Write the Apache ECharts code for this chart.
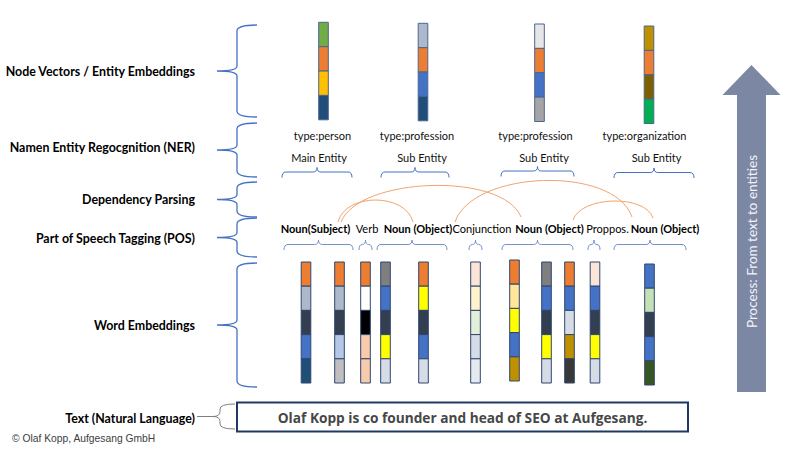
<!DOCTYPE html>
<html>
<head>
<meta charset="utf-8">
<script src="https://cdn.jsdelivr.net/npm/echarts@6/dist/echarts.min.js"></script>
<style>html,body{margin:0;padding:0;background:#fff}#c{width:800px;height:450px}</style>
</head>
<body>
<div id="c"></div>
<script>
// ---------------- DATA ----------------
const layerLabels = ['Node Vectors / Entity Embeddings', 'Namen Entity Regocgnition (NER)', 'Dependency Parsing', 'Part of Speech Tagging (POS)', 'Word Embeddings', 'Text (Natural Language)'];
const sentence = 'Olaf Kopp is co founder and head of SEO at Aufgesang.';
const words = sentence.replace('.', '').split(' ');
const palette = {
  O: '#ED7D31', GB: '#ADB9CA', N: '#333F50', B: '#4472C4', DB: '#1F4E79', LB: '#B4C7E7', G: '#BFBFBF',
  W: '#FFFFFF', K: '#000000', P: '#F8CBAD', DG: '#7F7F7F', Y: '#FFFF00', L: '#D6DCE5', PP: '#FBE5D6',
  PY: '#FFF2CC', PG: '#E2F0D9', L2: '#E6E9EE', LY: '#FFE699', GO: '#BF9000', DK: '#3B3838', LGR: '#C5E0B4',
  DGR: '#375623', GR: '#70AD47', AU: '#FFC000', LL: '#E7E6E6', MG: '#A5A5A5', BR: '#7F6000', EG: '#00B050'
};
const wordEmbeddings = [
  ['O', 'GB', 'N', 'B', 'DB'],
  ['O', 'GB', 'N', 'LB', 'G'],
  ['O', 'W', 'K', 'P', 'P'],
  ['DG', 'B', 'N', 'Y', 'L'],
  ['O', 'Y', 'N', 'B', 'L'],
  ['PP', 'PY', 'PG', 'L', 'L2'],
  ['O', 'LY', 'Y', 'B', 'GO'],
  ['DG', 'B', 'N', 'Y', 'L'],
  ['O', 'B', 'L', 'GO', 'DK'],
  ['PP', 'B', 'N', 'Y', 'L'],
  ['B', 'LGR', 'N', 'B', 'DGR']
];
const posTags = ['Noun(Subject)', 'Verb', 'Noun (Object)', 'Conjunction', 'Noun (Object)', 'Proppos.', 'Noun (Object)'];
const posWordSpans = [[0, 1], [2, 2], [3, 4], [5, 5], [6, 8], [9, 9], [10, 10]];
const dependencies = [[0, 2], [0, 4], [2, 6], [4, 6]];
const entityPos = [0, 2, 4, 6];
const entityRoles = ['Main Entity', 'Sub Entity', 'Sub Entity', 'Sub Entity'];
const entityTypes = ['type:person', 'type:profession', 'type:profession', 'type:organization'];
const nodeVectors = [
  ['GR', 'O', 'AU', 'DB'],
  ['GB', 'O', 'B', 'DB'],
  ['LL', 'O', 'B', 'MG'],
  ['GO', 'O', 'BR', 'EG']
];
const processLabel = 'Process: From text to entities';
const credit = '\u00A9 Olaf Kopp, Aufgesang GmbH';

// ---------------- LAYOUT ----------------
const LAY = {
  wordX: [306, 339.5, 365.5, 385.5, 423.5, 475.5, 514.5, 546.5, 569.5, 595, 649.5],
  wordTop: [262, 262, 262, 262, 262, 262, 260, 262, 262, 262, 264],
  wordH: 121,
  cellW: 9.6,
  nodeX: [323.5, 423, 539.5, 649],
  nodeTop: [22.3, 23.3, 24, 26],
  nodeH: 97.5,
  posX: [315.5, 367, 418, 482, 549.5, 607.5, 665],
  posY: 228.5,
  posBrace: [[284, 353], [359, 372], [377, 447], [469, 482], [502, 573], [588, 600], [614, 686]],
  posBraceY: 244.5,
  typeX: [322.5, 417, 535.5, 644.5], typeY: 135,
  roleX: [319, 422, 544, 656.5], roleY: 157.5,
  nerBrace: [[282, 352, 172], [381, 449, 172], [501, 574, 171], [614, 694, 172.5]],
  arcs: [[338, 222, 413, 222, 22], [341, 222, 521, 217, 34], [455, 222, 632, 217, 39], [573, 220, 653, 218, 18]],
  layerY: [71.7, 147.7, 199, 238, 325, 418], layerRight: 195,
  layerBrace: [[25, 117], [123, 177], [182, 217], [218, 257], [263, 387]],
  box: [237, 402.5, 688, 431.5],
  arrow: { x: 751.5, tip: 65, headBase: 95, headHalf: 29, shaftHalf: 14.5, bottom: 392 }
};

// ---------------- BUILD MARKS ----------------
const cells = [];
wordEmbeddings.forEach((col, i) => {
  const h = LAY.wordH / col.length;
  col.forEach((k, j) => cells.push({ x: LAY.wordX[i], y0: LAY.wordTop[i] + j * h, y1: LAY.wordTop[i] + (j + 1) * h, color: palette[k], stroke: '#2F4670' }));
});
nodeVectors.forEach((col, i) => {
  const h = LAY.nodeH / col.length;
  col.forEach((k, j) => cells.push({ x: LAY.nodeX[i], y0: LAY.nodeTop[i] + j * h, y1: LAY.nodeTop[i] + (j + 1) * h, color: palette[k], stroke: '#4A6590' }));
});

const texts = [];
layerLabels.forEach((t, i) => texts.push({ x: LAY.layerRight, y: LAY.layerY[i], text: t, font: 'bold 12.4px Lato', fill: '#000', align: 'right' }));
posTags.forEach((t, i) => texts.push({ x: LAY.posX[i], y: LAY.posY, text: t, font: (t.indexOf('Noun') === 0 ? 'bold ' : '') + '11px Lato', fill: '#000', align: 'center' }));
entityTypes.forEach((t, i) => texts.push({ x: LAY.typeX[i], y: LAY.typeY, text: t, font: '11px Lato', fill: '#111', align: 'center' }));
entityRoles.forEach((t, i) => texts.push({ x: LAY.roleX[i], y: LAY.roleY, text: t, font: '11px Lato', fill: '#111', align: 'center' }));
texts.push({ x: (LAY.box[0] + LAY.box[2]) / 2, y: 417, text: sentence, font: 'bold 13.7px "Open Sans"', fill: '#474747', align: 'center' });
texts.push({ x: 12, y: 438, text: credit, font: '10.3px "Liberation Sans"', fill: '#404040', align: 'left' });
texts.push({ x: LAY.arrow.x, y: 241.5, text: processLabel, font: '13.5px Lato', fill: '#F1F3F7', align: 'center', rot: Math.PI / 2 });

// braces
const braces = [];
LAY.layerBrace.forEach(b => braces.push({ kind: 'v', xTip: 217, x0: 237, x1: 257, yT: b[0], yB: b[1], r: 6, color: '#4472C4', w: 1.3 }));
braces.push({ kind: 'v', xTip: 213, x0: 220, x1: 235, yT: 404, yB: 429, r: 5, color: '#7F7F7F', w: 1, lead: 197 });
LAY.nerBrace.forEach(b => braces.push({ kind: 'h', xa: b[0], xb: b[1], yL: b[2], yE: b[2] + 5.5, yT: b[2] - 4.5, r: 4, color: '#4472C4', w: 1 }));
posWordSpans.forEach((s, i) => { const b = LAY.posBrace[i]; braces.push({ kind: 'h', xa: b[0], xb: b[1], yL: LAY.posBraceY, yE: LAY.posBraceY + 5.5, yT: LAY.posBraceY - 4.5, r: 4, color: '#7391CB', w: 1 }); });

const arcs = dependencies.map((d, i) => { const a = LAY.arcs[i]; return { x0: a[0], y0: a[1], x1: a[2], y1: a[3], h: a[4] }; });

// ---------------- RENDER ----------------
function pt(api, x, y) { const p = api.coord([x, y]); return p[0].toFixed(2) + ' ' + p[1].toFixed(2); }

const chart = echarts.init(document.getElementById('c'), null, { renderer: 'svg' });
chart.setOption({
  animation: false,
  backgroundColor: '#ffffff',
  grid: { left: 0, right: 0, top: 0, bottom: 0 },
  xAxis: { type: 'value', min: 0, max: 800, show: false },
  yAxis: { type: 'value', min: 0, max: 450, inverse: true, show: false },
  series: [
    { // arrow
      type: 'custom', silent: true, data: [[LAY.arrow.x, LAY.arrow.tip]],
      renderItem: (params, api) => {
        const A = LAY.arrow;
        const pts = [[A.x, A.tip], [A.x + A.headHalf, A.headBase], [A.x + A.shaftHalf, A.headBase], [A.x + A.shaftHalf, A.bottom], [A.x - A.shaftHalf, A.bottom], [A.x - A.shaftHalf, A.headBase], [A.x - A.headHalf, A.headBase]].map(p => api.coord(p));
        return { type: 'polygon', shape: { points: pts }, style: { fill: '#7C87A4' } };
      }
    },
    { // sentence box
      type: 'custom', silent: true, data: [[LAY.box[0], LAY.box[1]]],
      renderItem: (params, api) => {
        const p0 = api.coord([LAY.box[0], LAY.box[1]]), p1 = api.coord([LAY.box[2], LAY.box[3]]);
        return { type: 'rect', shape: { x: p0[0], y: p0[1], width: p1[0] - p0[0], height: p1[1] - p0[1] }, style: { fill: '#fff', stroke: '#1F3864', lineWidth: 2 } };
      }
    },
    { // embedding cells
      type: 'custom', silent: true, data: cells.map(c => [c.x, c.y0, c.y1]),
      renderItem: (params, api) => {
        const c = cells[params.dataIndex];
        const p0 = api.coord([api.value(0) - LAY.cellW / 2, api.value(1)]);
        const p1 = api.coord([api.value(0) + LAY.cellW / 2, api.value(2)]);
        return { type: 'rect', shape: { x: p0[0], y: p0[1], width: p1[0] - p0[0], height: p1[1] - p0[1] }, style: { fill: c.color, stroke: c.stroke, lineWidth: 1 } };
      }
    },
    { // braces
      type: 'custom', silent: true, data: braces.map(b => [b.kind === 'v' ? b.x0 : b.xa, b.kind === 'v' ? b.yT : b.yL]),
      renderItem: (params, api) => {
        const b = braces[params.dataIndex];
        let d;
        if (b.kind === 'v') {
          const ym = (b.yT + b.yB) / 2, r = b.r, rm = 5;
          d = 'M' + pt(api, b.x1, b.yT) + ' Q' + pt(api, b.x0, b.yT) + ' ' + pt(api, b.x0, b.yT + r) +
            ' L' + pt(api, b.x0, ym - rm) + ' Q' + pt(api, b.x0, ym) + ' ' + pt(api, b.xTip, ym) +
            ' Q' + pt(api, b.x0, ym) + ' ' + pt(api, b.x0, ym + rm) +
            ' L' + pt(api, b.x0, b.yB - r) + ' Q' + pt(api, b.x0, b.yB) + ' ' + pt(api, b.x1, b.yB);
          if (b.lead) d += ' M' + pt(api, b.lead, ym) + ' L' + pt(api, b.xTip, ym);
        } else {
          const xm = (b.xa + b.xb) / 2, r = Math.min(b.r, (b.xb - b.xa) / 4);
          d = 'M' + pt(api, b.xa, b.yE) + ' Q' + pt(api, b.xa, b.yL) + ' ' + pt(api, b.xa + r, b.yL) +
            ' L' + pt(api, xm - r, b.yL) + ' Q' + pt(api, xm, b.yL) + ' ' + pt(api, xm, b.yT) +
            ' Q' + pt(api, xm, b.yL) + ' ' + pt(api, xm + r, b.yL) +
            ' L' + pt(api, b.xb - r, b.yL) + ' Q' + pt(api, b.xb, b.yL) + ' ' + pt(api, b.xb, b.yE);
        }
        return { type: 'path', shape: { pathData: d }, style: { fill: 'none', stroke: b.color, lineWidth: b.w } };
      }
    },
    { // dependency arcs
      type: 'custom', silent: true, data: arcs.map(a => [a.x0, a.y0]),
      renderItem: (params, api) => {
        const a = arcs[params.dataIndex];
        const dx = a.x1 - a.x0, k = 1.333 * a.h;
        const d = 'M' + pt(api, a.x0, a.y0) + ' C' + pt(api, a.x0 + 0.1 * dx, a.y0 - k) + ' ' + pt(api, a.x1 - 0.1 * dx, a.y1 - k) + ' ' + pt(api, a.x1, a.y1);
        return { type: 'path', shape: { pathData: d }, style: { fill: 'none', stroke: '#F2A46E', lineWidth: 1 } };
      }
    },
    { // texts
      type: 'custom', silent: true, data: texts.map(t => [t.x, t.y]),
      renderItem: (params, api) => {
        const t = texts[params.dataIndex];
        const p = api.coord([api.value(0), api.value(1)]);
        return { type: 'text', x: p[0], y: p[1], rotation: t.rot || 0, style: { text: t.text, font: t.font, fill: t.fill, align: t.align, verticalAlign: 'middle' } };
      }
    }
  ]
});
</script>
</body>
</html>
